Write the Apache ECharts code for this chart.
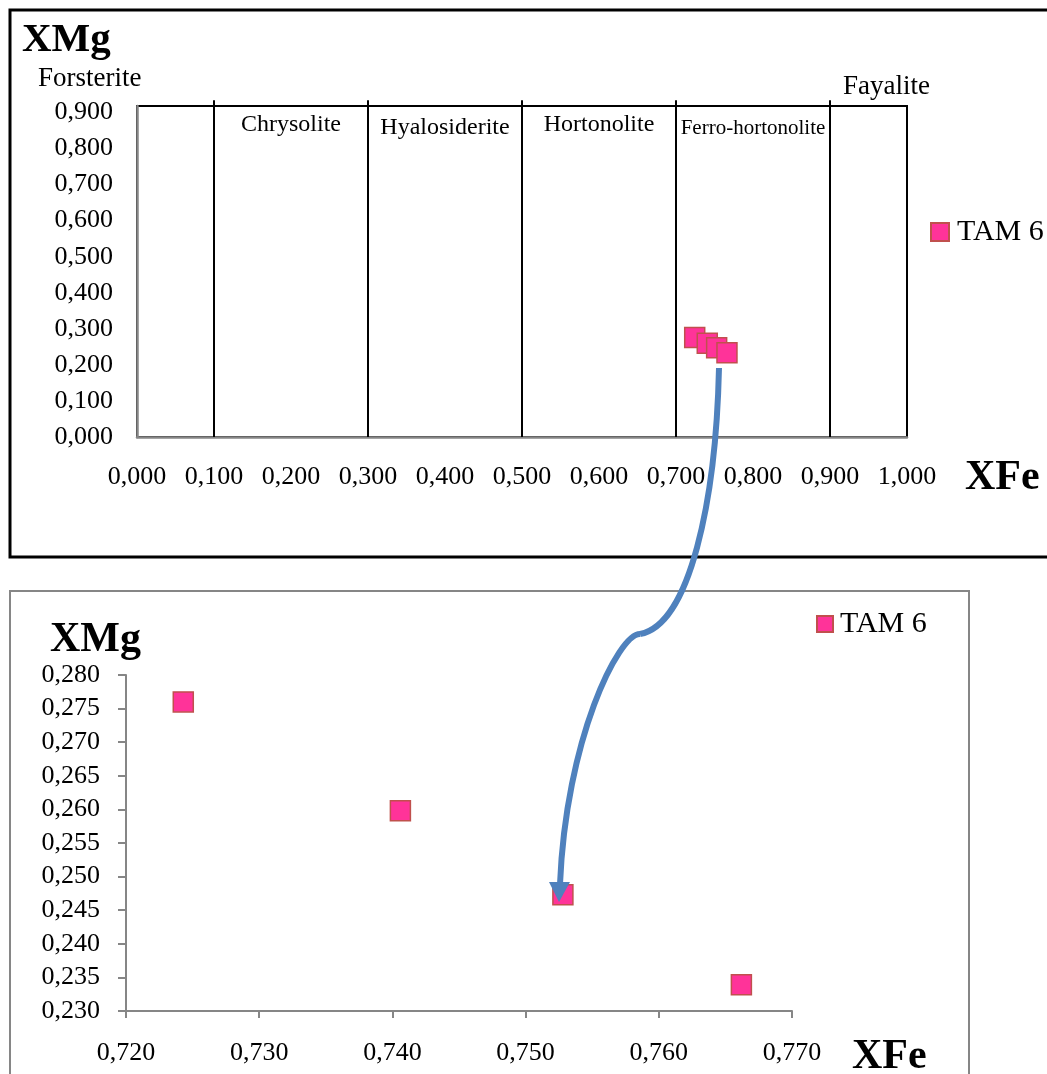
<!DOCTYPE html>
<html>
<head>
<meta charset="utf-8">
<script src="https://cdn.jsdelivr.net/npm/echarts@6/dist/echarts.min.js"></script>
<style>html,body{margin:0;padding:0;background:#fff}#c{width:1047px;height:1074px}</style>
</head>
<body>
<div id="c"></div>
<script>
// ---- data ----
const seriesName = 'TAM 6';
const xFe = [0.7243, 0.7406, 0.7528, 0.7662];
const xMg = [0.2760, 0.2598, 0.2473, 0.2339];
const dividerX = [0.1, 0.3, 0.5, 0.7, 0.9];
const dividerTop = 0.934;
const mineralNames = ['Chrysolite', 'Hyalosiderite', 'Hortonolite', 'Ferro-hortonolite'];
const mineralX = [0.2, 0.4, 0.6, 0.8];
const mineralY = [0.865, 0.857, 0.865, 0.857];
const topX = {min: 0, max: 1, interval: 0.1};
const topY = {min: 0, max: 0.918, interval: 0.1};
const botX = {min: 0.72, max: 0.77, interval: 0.01};
const botY = {min: 0.23, max: 0.28, interval: 0.005};

const FONT = "'Liberation Serif', 'Times New Roman', serif";
const GRAY = '#868686';
const fmt = v => v.toFixed(3).replace('.', ',');
const pts = xFe.map((x, i) => [x, xMg[i]]);
const markerStyle = {color: '#FF3399', borderColor: '#C0504D', borderWidth: 1.5, opacity: 1};

const series = [];
dividerX.forEach(x => series.push({
  type: 'line', xAxisIndex: 0, yAxisIndex: 0, data: [[x, 0], [x, dividerTop]],
  symbol: 'none', clip: false, lineStyle: {color: '#000', width: 2}, silent: true, z: 3
}));
series.push({
  type: 'scatter', xAxisIndex: 0, yAxisIndex: 0, symbolSize: 0, silent: true,
  itemStyle: {opacity: 1},
  data: mineralNames.map((n, i) => ({value: [mineralX[i], mineralY[i]], name: n,
    label: {fontSize: n === 'Ferro-hortonolite' ? 21 : 24, color: '#000'}})),
  label: {show: true, position: 'inside', formatter: p => p.name, color: '#000', fontFamily: FONT}
});
series.push({name: seriesName, type: 'scatter', xAxisIndex: 0, yAxisIndex: 0, data: pts,
  symbol: 'rect', symbolSize: 20, itemStyle: markerStyle, z: 5});
series.push({name: seriesName, type: 'scatter', xAxisIndex: 1, yAxisIndex: 1, data: pts,
  symbol: 'rect', symbolSize: 20, itemStyle: markerStyle, z: 5});

const axisText = {color: '#000', fontFamily: FONT, fontSize: 26};
const txt = (s, x, y, font) => ({type: 'text', x: x, y: y, z: 50,
  style: {text: s, font: font, fill: '#000', align: 'left', verticalAlign: 'middle'}});

const option = {
  animation: false,
  backgroundColor: '#fff',
  grid: [
    {left: 137, top: 106, width: 770, height: 331, show: true, borderColor: '#000', borderWidth: 2, backgroundColor: 'transparent'},
    {left: 126, top: 675, width: 666, height: 336}
  ],
  xAxis: [
    {type: 'value', gridIndex: 0, min: topX.min, max: topX.max, interval: topX.interval,
     axisLine: {show: true, onZero: false, lineStyle: {color: GRAY, width: 2.5}},
     axisTick: {show: false}, splitLine: {show: false},
     axisLabel: Object.assign({margin: 27, formatter: fmt}, axisText)},
    {type: 'value', gridIndex: 1, min: botX.min, max: botX.max, interval: botX.interval,
     axisLine: {show: true, onZero: false, lineStyle: {color: GRAY, width: 2}},
     axisTick: {show: true, length: 7, lineStyle: {color: GRAY, width: 2}}, splitLine: {show: false},
     axisLabel: Object.assign({margin: 29, formatter: fmt}, axisText)}
  ],
  yAxis: [
    {type: 'value', gridIndex: 0, min: topY.min, max: topY.max, interval: topY.interval,
     axisLine: {show: true, onZero: false, lineStyle: {color: GRAY, width: 2.5}},
     axisTick: {show: false}, splitLine: {show: false},
     axisLabel: Object.assign({margin: 24, formatter: fmt, showMaxLabel: false}, axisText)},
    {type: 'value', gridIndex: 1, min: botY.min, max: botY.max, interval: botY.interval,
     axisLine: {show: true, onZero: false, lineStyle: {color: GRAY, width: 2}},
     axisTick: {show: true, length: 8, lineStyle: {color: GRAY, width: 2}}, splitLine: {show: false},
     axisLabel: Object.assign({margin: 26, formatter: fmt}, axisText)}
  ],
  legend: [
    {data: [seriesName], left: 930, top: 217, padding: 0, itemWidth: 18, itemHeight: 18,
     icon: 'rect', textStyle: {fontFamily: FONT, fontSize: 30, color: '#000', padding: [0,0,0,3]}},
    {data: [seriesName], left: 816, top: 609, padding: 0, itemWidth: 16, itemHeight: 16,
     icon: 'rect', textStyle: {fontFamily: FONT, fontSize: 30, color: '#000', padding: [0,0,0,2]}}
  ],
  graphic: [
    {type: 'rect', shape: {x: 10, y: 10, width: 1080, height: 547}, style: {fill: 'none', stroke: '#000', lineWidth: 3}, z: -10},
    {type: 'rect', shape: {x: 10, y: 591, width: 959, height: 520}, style: {fill: 'none', stroke: GRAY, lineWidth: 2}, z: -10},
    txt('XMg', 22, 40, 'bold 41px ' + FONT),
    txt('Forsterite', 38, 79, '27px ' + FONT),
    txt('Fayalite', 843, 87, '27px ' + FONT),
    txt('XFe', 965, 478, 'bold 42px ' + FONT),
    txt('XMg', 50, 640, 'bold 42px ' + FONT),
    txt('XFe', 852, 1057, 'bold 42px ' + FONT),
    {type: 'bezierCurve', z: 100, shape: {x1: 719, y1: 368, cpx1: 716, cpy1: 500, cpx2: 690, cpy2: 625, x2: 640, y2: 634},
     style: {stroke: '#4F81BD', lineWidth: 6, fill: 'none'}},
    {type: 'bezierCurve', z: 100, shape: {x1: 640, y1: 634, cpx1: 618, cpy1: 634, cpx2: 566, cpy2: 740, x2: 560, y2: 884},
     style: {stroke: '#4F81BD', lineWidth: 6, fill: 'none'}},
    {type: 'polygon', z: 100, shape: {points: [[549, 882], [570, 882], [559, 902]]}, style: {fill: '#4F81BD'}}
  ],
  series: series
};
const chart = echarts.init(document.getElementById('c'), null, {renderer: 'canvas'});
chart.setOption(option);
</script>
</body>
</html>
